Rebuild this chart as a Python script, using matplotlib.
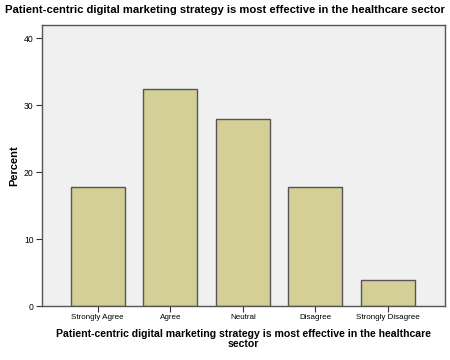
import matplotlib.pyplot as plt

plt.rcParams["font.family"] = ["Liberation Sans", "DejaVu Sans"]

categories = ["Strongly Agree", "Agree", "Neutral", "Disagree", "Strongly Disagree"]
percent = [17.8, 32.5, 27.9, 17.8, 3.9]
y_ticks = [0, 10, 20, 30, 40]

TITLE = "Patient-centric digital marketing strategy is most effective in the healthcare sector"

fig = plt.figure(figsize=(4.5, 3.6), dpi=100)
ax = fig.add_axes([0.0933, 0.15, 0.8957, 0.7806])
ax.set_facecolor("#f0f0f0")

x = range(len(categories))
ax.bar(x, percent, width=0.745, color="#d3cf96", edgecolor="#555555", linewidth=1.0)

ax.set_xlim(-0.77, 4.79)
ax.set_ylim(0, 42)
ax.set_xticks(list(x))
ax.set_xticklabels(categories, fontsize=5.8)
ax.set_yticks(y_ticks)
ax.set_yticklabels([str(v) for v in y_ticks], fontsize=6.2)
ax.tick_params(axis="both", length=4, width=0.8, color="#333333", pad=2)

for spine in ax.spines.values():
    spine.set_color("#555555")
    spine.set_linewidth(1.0)

ax.set_ylabel("Percent", fontsize=8, fontweight="bold", labelpad=3)
ax.set_xlabel(
    "Patient-centric digital marketing strategy is most effective in the healthcare\nsector",
    fontsize=7.6,
    fontweight="bold",
    labelpad=5.5,
    linespacing=1.05,
)
fig.text(0.5, 0.972, TITLE, ha="center", va="center", fontsize=8.1, fontweight="bold")

fig.savefig("out.png", dpi=100)
